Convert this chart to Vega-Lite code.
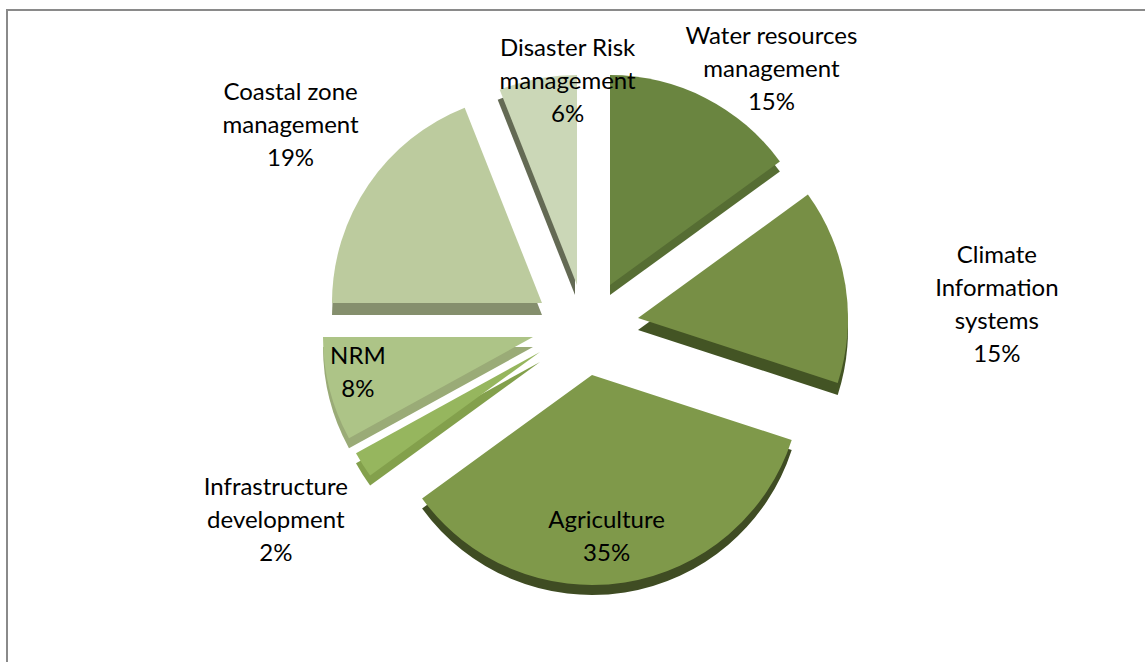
{
  "$schema": "https://vega.github.io/schema/vega-lite/v6.json",
  "autosize": "none",
  "width": 1140,
  "height": 655,
  "padding": {"left": 7, "top": 10, "right": 0, "bottom": 0},
  "background": "white",
  "config": {"view": {"stroke": null}},
  "data": {"values": [
    {"cat": "Water resources management", "value": 15, "lines": ["Water resources", "management", "15%"]},
    {"cat": "Climate Information systems", "value": 15, "lines": ["Climate", "Information", "systems", "15%"]},
    {"cat": "Agriculture", "value": 35, "lines": ["Agriculture", "35%"]},
    {"cat": "Infrastructure development", "value": 2, "lines": ["Infrastructure", "development", "2%"]},
    {"cat": "NRM", "value": 8, "lines": ["NRM", "8%"]},
    {"cat": "Coastal zone management", "value": 19, "lines": ["Coastal zone", "management", "19%"]},
    {"cat": "Disaster Risk management", "value": 6, "lines": ["Disaster Risk", "management", "6%"]}
  ]},
  "layer": [
    {
      "data": {"values": [{"frame": 1}]},
      "mark": {"type": "rect", "fill": null, "stroke": "#8a8a8a", "strokeWidth": 2},
      "encoding": {}
    },
    {
      "transform": [{"window": [{"op": "row_number", "as": "idx"}]}],
      "encoding": {
        "theta": {"field": "value", "type": "quantitative", "stack": true},
        "order": {"field": "idx", "type": "quantitative"}
      },
      "layer": [
        {"mark": {"type": "arc", "outerRadius": 210, "fill": "#566d33", "xOffset": 33, "yOffset": -42.5}, "encoding": {"opacity": {"condition": {"test": "datum.cat === 'Water resources management'", "value": 1}, "value": 0}}},
        {"mark": {"type": "arc", "outerRadius": 210, "fill": "#435424", "xOffset": 61, "yOffset": -7.5}, "encoding": {"opacity": {"condition": {"test": "datum.cat === 'Climate Information systems'", "value": 1}, "value": 0}}},
        {"mark": {"type": "arc", "outerRadius": 210, "fill": "#3f4c23", "xOffset": 15, "yOffset": 47.5}, "encoding": {"opacity": {"condition": {"test": "datum.cat === 'Agriculture'", "value": 1}, "value": 0}}},
        {"mark": {"type": "arc", "outerRadius": 210, "fill": "#83a04c", "xOffset": -37, "yOffset": 24.5}, "encoding": {"opacity": {"condition": {"test": "datum.cat === 'Infrastructure development'", "value": 1}, "value": 0}}},
        {"mark": {"type": "arc", "outerRadius": 210, "fill": "#9aab77", "xOffset": -44, "yOffset": 9.5}, "encoding": {"opacity": {"condition": {"test": "datum.cat === 'NRM'", "value": 1}, "value": 0}}},
        {"mark": {"type": "arc", "outerRadius": 210, "fill": "#858f6d", "xOffset": -35, "yOffset": -22.5}, "encoding": {"opacity": {"condition": {"test": "datum.cat === 'Coastal zone management'", "value": 1}, "value": 0}}},
        {"mark": {"type": "arc", "outerRadius": 210, "fill": "#646a54", "xOffset": -2, "yOffset": -42.5}, "encoding": {"opacity": {"condition": {"test": "datum.cat === 'Disaster Risk management'", "value": 1}, "value": 0}}},

        {"mark": {"type": "arc", "outerRadius": 210, "fill": "#6a8540", "xOffset": 33, "yOffset": -52.5}, "encoding": {"opacity": {"condition": {"test": "datum.cat === 'Water resources management'", "value": 1}, "value": 0}}},
        {"mark": {"type": "arc", "outerRadius": 210, "fill": "#778f45", "xOffset": 61, "yOffset": -19.5}, "encoding": {"opacity": {"condition": {"test": "datum.cat === 'Climate Information systems'", "value": 1}, "value": 0}}},
        {"mark": {"type": "arc", "outerRadius": 210, "fill": "#7f994a", "xOffset": 15, "yOffset": 37.5}, "encoding": {"opacity": {"condition": {"test": "datum.cat === 'Agriculture'", "value": 1}, "value": 0}}},
        {"mark": {"type": "arc", "outerRadius": 210, "fill": "#96b65e", "xOffset": -37, "yOffset": 14.5}, "encoding": {"opacity": {"condition": {"test": "datum.cat === 'Infrastructure development'", "value": 1}, "value": 0}}},
        {"mark": {"type": "arc", "outerRadius": 210, "fill": "#adc487", "xOffset": -44, "yOffset": -0.5}, "encoding": {"opacity": {"condition": {"test": "datum.cat === 'NRM'", "value": 1}, "value": 0}}},
        {"mark": {"type": "arc", "outerRadius": 210, "fill": "#bccb9e", "xOffset": -35, "yOffset": -34.5}, "encoding": {"opacity": {"condition": {"test": "datum.cat === 'Coastal zone management'", "value": 1}, "value": 0}}},
        {"mark": {"type": "arc", "outerRadius": 210, "fill": "#cbd7b7", "xOffset": 0, "yOffset": -52.5}, "encoding": {"opacity": {"condition": {"test": "datum.cat === 'Disaster Risk management'", "value": 1}, "value": 0}}},

        {"mark": {"type": "text", "radius": 327, "xOffset": 46, "yOffset": -9, "font": "Lato", "fontSize": 24, "lineHeight": 33, "fill": "#000000", "align": "center", "baseline": "middle"}, "encoding": {"text": {"field": "lines", "type": "nominal"}, "opacity": {"condition": {"test": "datum.cat === 'Water resources management'", "value": 1}, "value": 0}}},
        {"mark": {"type": "text", "radius": 420, "xOffset": 5, "yOffset": -15.5, "font": "Lato", "fontSize": 24, "lineHeight": 33, "fill": "#000000", "align": "center", "baseline": "middle"}, "encoding": {"text": {"field": "lines", "type": "nominal"}, "opacity": {"condition": {"test": "datum.cat === 'Climate Information systems'", "value": 1}, "value": 0}}},
        {"mark": {"type": "text", "radius": 202, "xOffset": -2, "yOffset": -16.5, "font": "Lato", "fontSize": 24, "lineHeight": 33, "fill": "#000000", "align": "center", "baseline": "middle"}, "encoding": {"text": {"field": "lines", "type": "nominal"}, "opacity": {"condition": {"test": "datum.cat === 'Agriculture'", "value": 1}, "value": 0}}},
        {"mark": {"type": "text", "radius": 352, "xOffset": -4, "yOffset": -38, "font": "Lato", "fontSize": 24, "lineHeight": 33, "fill": "#000000", "align": "center", "baseline": "middle"}, "encoding": {"text": {"field": "lines", "type": "nominal"}, "opacity": {"condition": {"test": "datum.cat === 'Infrastructure development'", "value": 1}, "value": 0}}},
        {"mark": {"type": "text", "radius": 221, "xOffset": -5, "yOffset": -35.5, "font": "Lato", "fontSize": 24, "lineHeight": 33, "fill": "#000000", "align": "center", "baseline": "middle"}, "encoding": {"text": {"field": "lines", "type": "nominal"}, "opacity": {"condition": {"test": "datum.cat === 'NRM'", "value": 1}, "value": 0}}},
        {"mark": {"type": "text", "radius": 356, "xOffset": 8, "yOffset": -44, "font": "Lato", "fontSize": 24, "lineHeight": 33, "fill": "#000000", "align": "center", "baseline": "middle"}, "encoding": {"text": {"field": "lines", "type": "nominal"}, "opacity": {"condition": {"test": "datum.cat === 'Coastal zone management'", "value": 1}, "value": 0}}},
        {"mark": {"type": "text", "radius": 253, "xOffset": 38, "yOffset": -40, "font": "Lato", "fontSize": 24, "lineHeight": 33, "fill": "#000000", "align": "center", "baseline": "middle"}, "encoding": {"text": {"field": "lines", "type": "nominal"}, "opacity": {"condition": {"test": "datum.cat === 'Disaster Risk management'", "value": 1}, "value": 0}}}
      ]
    }
  ]
}
